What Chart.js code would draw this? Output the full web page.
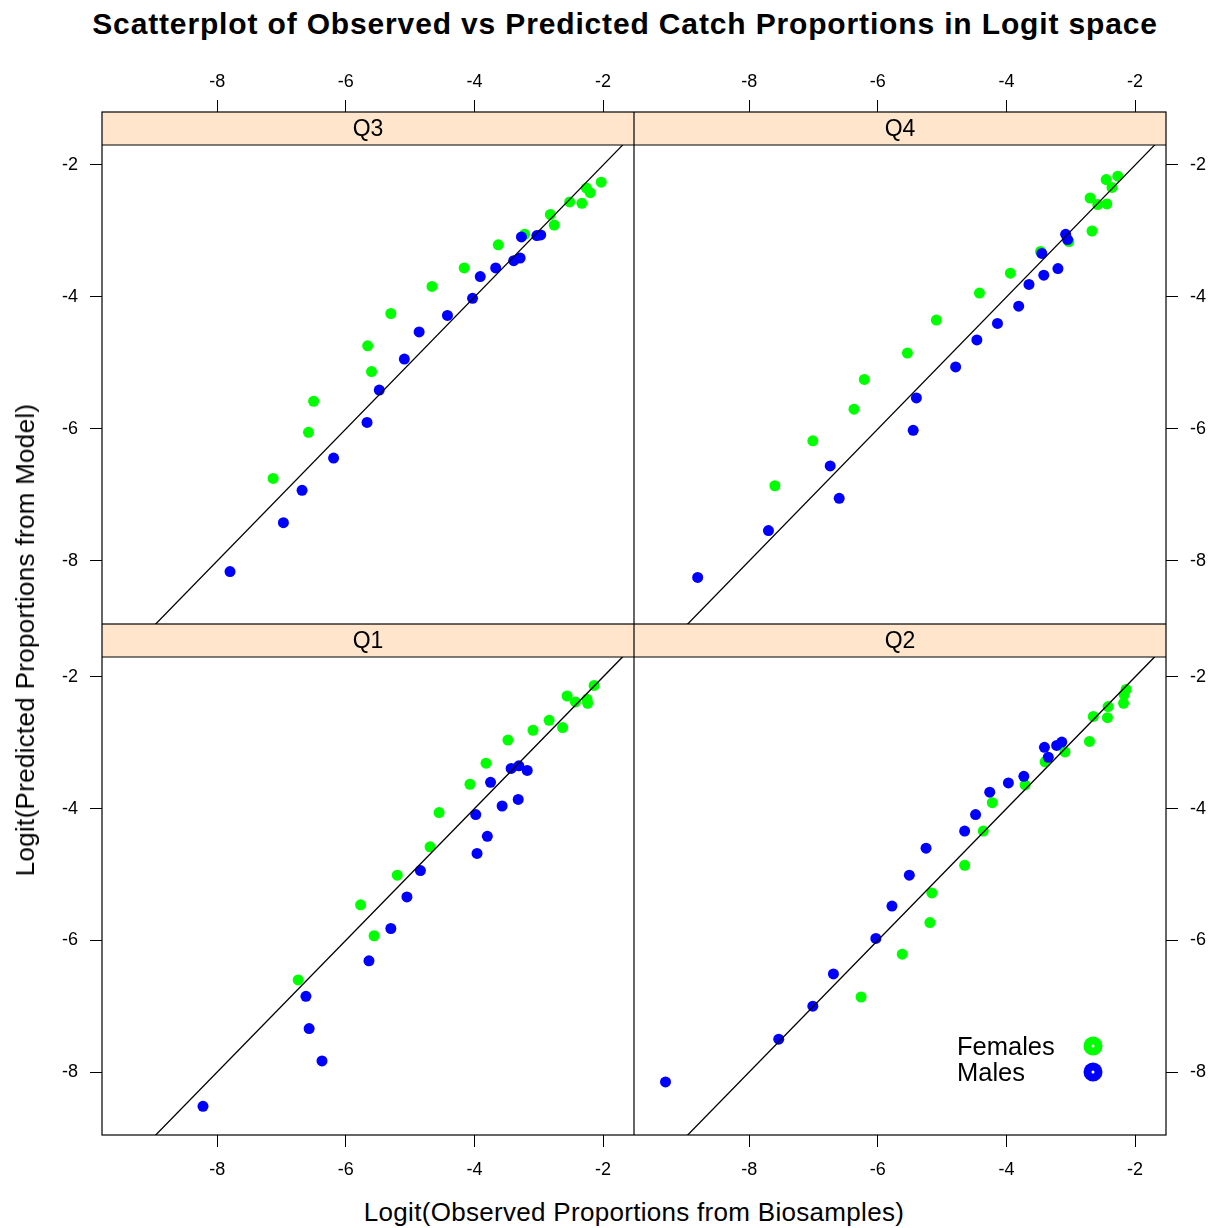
<!DOCTYPE html>
<html lang="en">
<head>
<meta charset="UTF-8" />
<title>Observed vs Predicted Catch Proportions</title>
<script src="https://cdn.jsdelivr.net/npm/chart.js"></script>
<style>
  body { margin: 0; background: #fff; font-family: "Liberation Sans", Arial, sans-serif; }
  #page { position: relative; width: 1217px; height: 1228px; overflow: hidden; background: #fff; }
  canvas, .txt { position: absolute; }
  .txt { color: #000; white-space: nowrap; line-height: 1; }
  #title { left: 0; width: 1250px; top: 9px; text-align: center; font-weight: bold; font-size: 30px; letter-spacing: 0.85px; }
  #xlab { left: 634px; top: 1212px; transform: translate(-50%, -50%); font-size: 26px; letter-spacing: 0.3px; }
  #ylab { left: 25px; top: 640px; transform: translate(-50%, -50%) rotate(-90deg); font-size: 26px; letter-spacing: 0.3px; }
  .key { left: 957px; font-size: 25.5px; transform: translateY(-50%); }
  .dot { position: absolute; width: 19px; height: 19px; border-radius: 50%; transform: translate(-50%, -50%); }
  .dot::after { content: ""; position: absolute; left: 8px; top: 8px; width: 3px; height: 3px; border-radius: 50%; background: #fff; }
</style>
</head>
<body>
<div id="page">
  <div class="txt" id="title">Scatterplot of Observed vs Predicted Catch Proportions in Logit space</div>
  <canvas id="q3" width="634" height="564" style="left:0;top:60px"></canvas>
  <canvas id="q4" width="583" height="564" style="left:634px;top:60px"></canvas>
  <canvas id="q1" width="634" height="571" style="left:0;top:624px"></canvas>
  <canvas id="q2" width="583" height="571" style="left:634px;top:624px"></canvas>
  <div class="txt" id="xlab">Logit(Observed Proportions from Biosamples)</div>
  <div class="txt" id="ylab">Logit(Predicted Proportions from Model)</div>
  <div class="txt key" style="top:1047px">Females</div>
  <div class="txt key" style="top:1073px">Males</div>
  <div class="dot" style="left:1093px;top:1046px;background:#00ff00"></div>
  <div class="dot" style="left:1093px;top:1072px;background:#0000ff"></div>
</div>
<script>
  // axes
  const xTicks = [-8, -6, -4, -2];
  const yTicks = [-2, -4, -6, -8];
  const xRange = [-9.79, -1.52];
  const yRange = [-8.955, -1.197];
  const refLine = [-10, -1]; // y = x

  // [observed, predicted] per quarter
  const q3Females = [[-7.13,-6.75],[-6.58,-6.05],[-6.50,-5.58],[-5.66,-4.74],[-5.60,-5.13],[-5.30,-4.25],[-4.66,-3.84],[-4.16,-3.56],[-3.63,-3.21],[-3.22,-3.05],[-2.82,-2.75],[-2.76,-2.91],[-2.52,-2.56],[-2.33,-2.58],[-2.26,-2.35],[-2.20,-2.42],[-2.03,-2.26]];
  const q3Males = [[-7.80,-8.16],[-6.97,-7.42],[-6.68,-6.93],[-6.19,-6.44],[-5.67,-5.90],[-5.48,-5.41],[-5.09,-4.94],[-4.86,-4.53],[-4.42,-4.28],[-4.03,-4.02],[-3.91,-3.69],[-3.67,-3.56],[-3.39,-3.45],[-3.29,-3.41],[-3.27,-3.09],[-3.03,-3.07],[-2.97,-3.06]];

  const q4Females = [[-7.60,-6.86],[-7.01,-6.18],[-6.37,-5.70],[-6.21,-5.25],[-5.54,-4.85],[-5.09,-4.35],[-4.42,-3.94],[-3.94,-3.64],[-3.47,-3.31],[-3.03,-3.16],[-2.70,-2.50],[-2.67,-3.00],[-2.58,-2.60],[-2.45,-2.22],[-2.44,-2.59],[-2.36,-2.34],[-2.27,-2.17]];
  const q4Males = [[-8.80,-8.25],[-7.70,-7.54],[-6.74,-6.56],[-6.60,-7.05],[-5.45,-6.02],[-5.40,-5.53],[-4.79,-5.06],[-4.46,-4.65],[-4.14,-4.40],[-3.81,-4.14],[-3.65,-3.81],[-3.45,-3.34],[-3.42,-3.67],[-3.20,-3.57],[-3.08,-3.05],[-3.05,-3.13]];

  const q1Females = [[-6.74,-6.60],[-5.77,-5.46],[-5.56,-5.93],[-5.20,-5.01],[-4.69,-4.58],[-4.55,-4.06],[-4.07,-3.63],[-3.82,-3.31],[-3.48,-2.96],[-3.09,-2.81],[-2.84,-2.66],[-2.63,-2.77],[-2.56,-2.29],[-2.43,-2.38],[-2.25,-2.34],[-2.24,-2.40],[-2.14,-2.13]];
  const q1Males = [[-8.22,-8.52],[-6.62,-6.85],[-6.57,-7.34],[-6.37,-7.83],[-5.64,-6.31],[-5.30,-5.82],[-5.05,-5.34],[-4.84,-4.94],[-3.98,-4.09],[-3.96,-4.68],[-3.80,-4.42],[-3.75,-3.60],[-3.57,-3.96],[-3.43,-3.39],[-3.32,-3.86],[-3.31,-3.35],[-3.18,-3.42]];

  const q2Females = [[-6.26,-6.86],[-5.62,-6.21],[-5.19,-5.73],[-5.16,-5.28],[-4.65,-4.86],[-4.36,-4.34],[-4.22,-3.91],[-3.71,-3.64],[-3.40,-3.29],[-3.09,-3.14],[-2.71,-2.98],[-2.65,-2.60],[-2.43,-2.62],[-2.42,-2.45],[-2.18,-2.40],[-2.17,-2.27],[-2.14,-2.19]];
  const q2Males = [[-9.30,-8.15],[-7.54,-7.50],[-7.01,-7.00],[-6.69,-6.51],[-6.03,-5.97],[-5.78,-5.48],[-5.51,-5.01],[-5.25,-4.60],[-4.65,-4.34],[-4.48,-4.09],[-4.26,-3.75],[-3.97,-3.61],[-3.73,-3.51],[-3.41,-3.07],[-3.35,-3.22],[-3.22,-3.04],[-3.14,-2.99]];

  const FONT = '"Liberation Sans", Arial, sans-serif';

  // peach strip with the panel name + panel box
  const stripPlugin = {
    id: 'strip',
    afterDatasetsDraw(chart, args, opts) {
      const { ctx, chartArea: a } = chart;
      ctx.save();
      ctx.fillStyle = '#ffe5cc';
      ctx.fillRect(a.left, a.top, a.right - a.left, opts.height);
      ctx.strokeStyle = '#000';
      ctx.lineWidth = 1.2;
      ctx.beginPath();
      ctx.moveTo(a.left, a.top + opts.height);
      ctx.lineTo(a.right, a.top + opts.height);
      ctx.stroke();
      ctx.strokeRect(a.left, a.top, a.right - a.left, a.bottom - a.top);
      ctx.fillStyle = '#000';
      ctx.font = '23px ' + FONT;
      ctx.textAlign = 'center';
      ctx.textBaseline = 'middle';
      ctx.fillText(opts.text, (a.left + a.right) / 2, a.top + opts.height / 2 + 1);
      ctx.restore();
    }
  };

  function axisOpts(pos, range, ticks, size, pad) {
    return {
      type: 'linear',
      position: pos,
      min: range[0],
      max: range[1],
      afterBuildTicks: s => { s.ticks = ticks.map(v => ({ value: v })); },
      afterFit: s => {
        if (s.isHorizontal()) s.height = size; else s.width = size;
        s.paddingTop = s.paddingBottom = s.paddingLeft = s.paddingRight = 0;
      },
      border: { display: false },
      grid: { drawOnChartArea: false, drawTicks: true, tickLength: 12, color: '#000', lineWidth: 1 },
      ticks: { color: '#000', padding: pad, autoSkip: false, maxRotation: 0, font: { family: FONT, size: 18 } }
    };
  }

  function makePanel(id, name, females, males, xPos, yPos, xSize, ySize, xPad) {
    const pts = arr => arr.map(p => ({ x: p[0], y: p[1] }));
    new Chart(document.getElementById(id), {
      type: 'scatter',
      data: {
        datasets: [
          { label: 'y = x', data: refLine.map(v => ({ x: v, y: v })), showLine: true,
            borderColor: '#000', borderWidth: 1.3, pointRadius: 0 },
          { label: 'Males', data: pts(males), backgroundColor: '#0000ff', pointRadius: 5.5, borderWidth: 0 },
          { label: 'Females', data: pts(females), backgroundColor: '#00ff00', pointRadius: 5.5, borderWidth: 0 }
        ]
      },
      options: {
        responsive: false,
        animation: false,
        events: [],
        layout: { padding: 0, autoPadding: false },
        plugins: {
          legend: { display: false },
          tooltip: { enabled: false },
          strip: { text: name, height: 33 }
        },
        scales: {
          x: axisOpts(xPos, xRange, xTicks, xSize, xPad),
          y: axisOpts(yPos, yRange, yTicks, ySize, 12)
        }
      },
      plugins: [stripPlugin]
    });
  }

  makePanel('q3', 'Q3', q3Females, q3Males, 'top', 'left', 52, 102, 7);
  makePanel('q4', 'Q4', q4Females, q4Males, 'top', 'right', 52, 51, 7);
  makePanel('q1', 'Q1', q1Females, q1Males, 'bottom', 'left', 60, 102, 12);
  makePanel('q2', 'Q2', q2Females, q2Males, 'bottom', 'right', 60, 51, 12);
</script>
</body>
</html>
